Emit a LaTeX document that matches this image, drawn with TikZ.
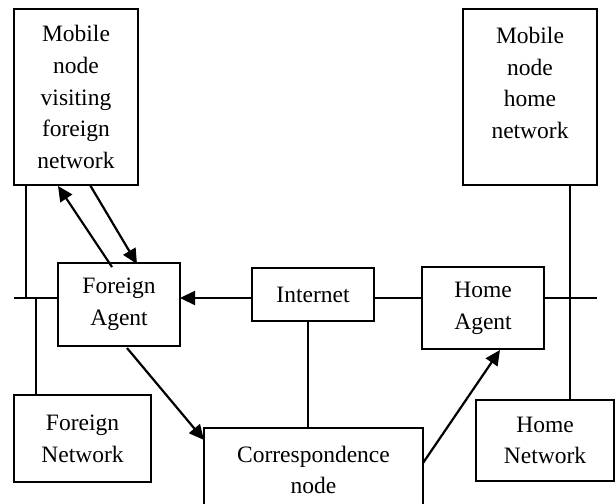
\documentclass[tikz,border=0pt]{standalone}
\usepackage{fontspec}
\setmainfont{Liberation Serif}
\usetikzlibrary{arrows.meta}
\begin{document}
\begin{tikzpicture}[x=1pt,y=-1pt,
  box/.style={draw,line width=1.6pt,inner sep=0pt,outer sep=0pt,align=center,
    font={\fontsize{23.5}{31.7}\selectfont}},
  lbl/.style={inner sep=0pt,align=center,font={\fontsize{23.5}{31.7}\selectfont}},
  wire/.style={line width=1.6pt},
  arr/.style={line width=2.2pt,-{Triangle[length=15pt,width=14pt]}}]
\useasboundingbox (0,0) rectangle (615,503);
\node[box,minimum width=124pt,minimum height=176pt] (mv) at (76,97) {Mobile\\node\\visiting\\foreign\\network};
\node[box,minimum width=134pt,minimum height=176pt] (mh) at (530,97) {};
\node[lbl,anchor=north] (mhtext) at (530,27) {Mobile\\node\\home\\network};
\node[box,minimum width=122pt,minimum height=83pt] (fa) at (119,304.5) {Foreign\\Agent};
\node[box,minimum width=122pt,minimum height=53pt] (inet) at (313,294.5) {Internet};
\node[box,minimum width=122pt,minimum height=82pt] (ha) at (483,308) {Home\\Agent};
\node[box,minimum width=137pt,minimum height=87pt] (fn) at (82.5,438.5) {Foreign\\Network};
\node[box,minimum width=138pt,minimum height=81pt] (hn) at (545,440.5) {Home\\Network};
\node[box,minimum width=219pt,minimum height=84pt] (cn) at (313.5,470) {Correspondence\\node};
\coordinate (lb) at (14,298);
\coordinate (j1) at (26,298);
\coordinate (j2) at (36,298);
\coordinate (j3) at (308,298);
\coordinate (j4) at (570,298);
\coordinate (rb) at (597,298);
\draw[wire] (lb) -- (fa.west |- lb);
\draw[wire] (mv.south -| j1) -- (j1);
\draw[wire] (j2) -- (fn.north -| j2);
\draw[wire] (inet.south -| j3) -- (cn.north -| j3);
\draw[wire] (inet.east |- rb) -- (ha.west |- rb);
\draw[wire] (ha.east |- rb) -- (rb);
\draw[wire] (mh.south -| j4) -- (hn.north -| j4);
\coordinate (a1s) at (112,267);
\coordinate (a1e) at (58,186);
\coordinate (a2s) at (90,185);
\coordinate (a2e) at (137,264);
\draw[arr] (a1s) -- (a1e);
\draw[arr] (a2s) -- (a2e);
\draw[arr] (inet.west |- rb) -- (fa.east |- rb);
\coordinate (a4s) at (127,348);
\coordinate (a4e) at (204,440);
\draw[arr] (a4s) -- (a4e);
\coordinate (a5s) at (423,463);
\coordinate (a5e) at (500,350);
\draw[arr] (a5s) -- (a5e);
\end{tikzpicture}
\end{document}
